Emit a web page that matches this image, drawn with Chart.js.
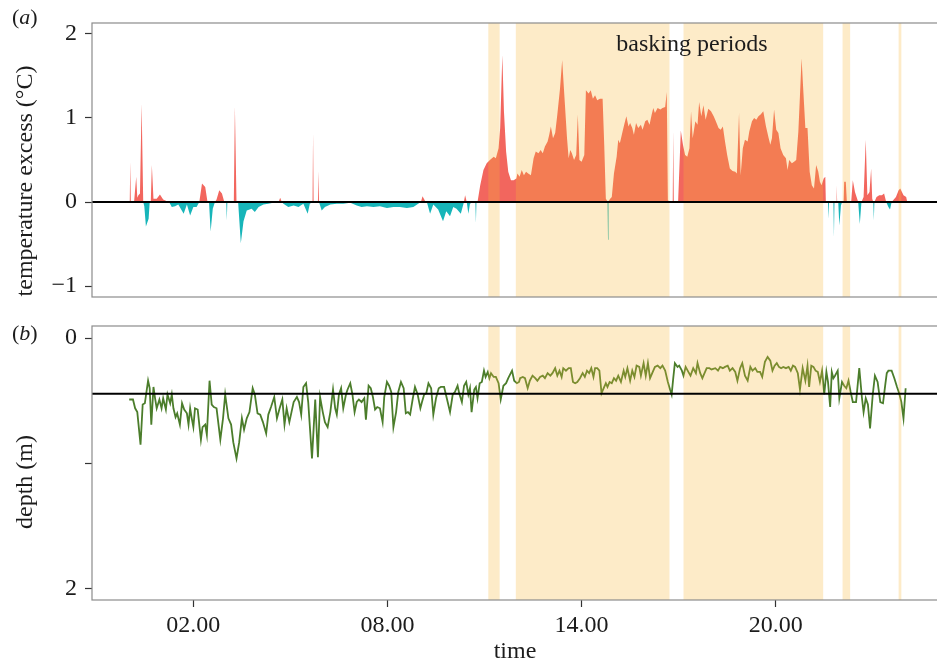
<!DOCTYPE html>
<html>
<head>
<meta charset="utf-8">
<script src="https://cdn.jsdelivr.net/npm/chart.js@4.4.1/dist/chart.umd.min.js"></script>
<style>
  html, body { margin: 0; padding: 0; background: #fff; overflow: hidden; width: 937px; height: 666px; }
  canvas { position: absolute; left: 0; top: 0; }
</style>
</head>
<body>
<canvas id="tempChart" width="940" height="666"></canvas>
<canvas id="depthChart" width="940" height="666"></canvas>
<script>
// time is in minutes after midnight
const tickMinutes = [120, 480, 840, 1200];
const tickLabels = ['02.00', '08.00', '14.00', '20.00'];
const tempTicks = [-1, 0, 1, 2];
const tempTickLabels = ['\u22121', '0', '1', '2'];
const depthTicks = [0, 1, 2];
const depthTickLabels = ['0', '', '2'];

// basking periods (start / end, minutes)
const baskStart = [667, 718, 1029, 1324, 1428];
const baskEnd = [688, 1003, 1288, 1338, 1433];
const depthRef = 0.445;

// temperature excess (°C)
const tempTime = [
  0, 2, 3, 4, 10, 14, 16, 18, 21, 24,
  27, 29, 32, 37, 39, 41, 43, 46, 52, 58,
  64, 71, 75, 80, 86, 92, 102, 108, 114, 120,
  126, 131, 136, 142, 146, 149, 152, 156, 160, 163,
  168, 173, 177, 181, 182, 183, 195, 197, 200, 203,
  208, 213, 219, 228, 234, 241, 250, 259, 268, 275,
  278, 281, 284, 287, 296, 306, 315, 324, 332, 336,
  341, 342, 343, 351, 352, 353, 358, 364, 374, 386,
  398, 411, 423, 432, 442, 454, 466, 479, 491, 503,
  516, 528, 537, 542, 545, 550, 553, 559, 565, 574,
  583, 589, 596, 602, 608, 616, 621, 624, 627, 630,
  633, 638, 643, 644, 645, 647, 652, 658, 664, 670,
  677, 681, 686, 689, 693, 696, 700, 704, 709, 714,
  719, 721, 725, 729, 733, 737, 741, 746, 751, 755,
  760, 764, 768, 772, 777, 780, 783, 787, 791, 795,
  800, 804, 808, 813, 816, 819, 822, 826, 830, 833,
  836, 840, 845, 848, 853, 857, 861, 865, 869, 874,
  879, 882, 885, 888, 889, 890, 893, 896, 900, 905,
  908, 911, 916, 919, 923, 927, 930, 934, 937, 941,
  945, 950, 953, 958, 962, 966, 970, 973, 976, 981,
  986, 990, 995, 998, 1000, 1004, 1009, 1010, 1011, 1019,
  1024, 1028, 1032, 1036, 1040, 1043, 1046, 1051, 1055, 1058,
  1062, 1066, 1070, 1075, 1080, 1085, 1089, 1094, 1098, 1102,
  1106, 1110, 1115, 1120, 1125, 1128, 1132, 1135, 1139, 1143,
  1148, 1151, 1156, 1160, 1164, 1168, 1172, 1177, 1182, 1187,
  1190, 1193, 1197, 1201, 1205, 1209, 1214, 1219, 1222, 1225,
  1230, 1234, 1238, 1242, 1245, 1248, 1251, 1255, 1259, 1263,
  1267, 1271, 1275, 1279, 1282, 1285, 1289, 1292, 1293, 1297,
  1298, 1299, 1307, 1308, 1309, 1312, 1313, 1314, 1316, 1318,
  1321, 1323, 1326, 1327, 1330, 1332, 1340, 1343, 1347, 1350,
  1353, 1356, 1359, 1363, 1367, 1370, 1374, 1377, 1379, 1381,
  1382, 1383, 1387, 1392, 1397, 1401, 1405, 1409, 1412, 1415,
  1423, 1428, 1431, 1437, 1442, 1444
];
const tempValue = [
  0, 0, 0.48, 0, 0, 0.30, 0.05, 0.08, 0.10, 1.17,
  0, -0.05, -0.29, -0.20, 0, 0, 0.44, 0.04, 0.04, 0.09,
  0.03, 0.01, 0, -0.06, -0.05, -0.03, -0.14, -0.03, -0.16, -0.06,
  -0.06, 0, 0.22, 0.18, 0.01, 0, -0.35, -0.08, 0, 0.03,
  0.14, 0.10, 0.01, 0, -0.22, 0, 0, 1.14, 0, 0,
  -0.49, -0.23, -0.10, -0.08, -0.12, -0.06, -0.03, -0.02, -0.01, -0.01,
  0, 0.05, 0, -0.02, -0.06, -0.04, -0.06, -0.02, -0.14, -0.02,
  0, 0.82, 0, 0, 0.37, 0, -0.10, -0.06, -0.03, -0.02,
  -0.02, -0.01, -0.04, -0.06, -0.05, -0.06, -0.05, -0.07, -0.06, -0.06,
  -0.07, -0.06, -0.02, 0, 0.07, 0.01, 0, -0.14, -0.03, -0.09,
  -0.23, -0.11, -0.17, -0.06, -0.08, -0.14, -0.02, 0.08, 0, -0.14,
  -0.02, 0, 0, -0.25, 0, 0, 0.20, 0.38, 0.46, 0.50,
  0.54, 0.52, 0.64, 0.88, 1.75, 1.08, 0.60, 0.36, 0.26, 0.26,
  0.28, 0.34, 0.30, 0.38, 0.32, 0.36, 0.34, 0.32, 0.52, 0.60,
  0.58, 0.62, 0.58, 0.66, 0.72, 0.80, 0.90, 0.76, 0.82, 1.04,
  1.35, 1.69, 1.27, 0.76, 0.52, 0.62, 0.58, 0.50, 0.56, 1.04,
  0.50, 0.48, 0.56, 1.33, 1.29, 1.33, 1.23, 1.27, 1.21, 1.23,
  1.23, 0.68, 0.04, 0.01, -0.45, 0.01, 0.04, 0.06, 0.34, 0.54,
  0.74, 0.70, 0.84, 0.92, 1.02, 0.90, 0.94, 0.88, 0.80, 0.94,
  0.88, 0.92, 0.86, 0.96, 0.98, 0.92, 1.04, 1.12, 1.06, 1.12,
  1.10, 1.12, 1.13, 1.31, 0.02, 0, 0, 0.85, 0, 0,
  0.85, 0.68, 0.56, 0.54, 0.64, 1.08, 0.76, 0.96, 0.92, 1.19,
  1.02, 1.15, 0.98, 1.11, 1.08, 1.02, 0.96, 0.88, 0.86, 0.90,
  0.72, 0.56, 0.40, 0.37, 0.36, 0.34, 1.06, 0.32, 0.64, 0.74,
  0.72, 0.84, 0.96, 1.00, 0.98, 1.02, 1.04, 1.08, 0.90, 0.76,
  0.68, 0.76, 1.10, 0.86, 0.82, 0.64, 0.56, 0.52, 0.38, 0.50,
  0.46, 0.48, 0.50, 0.84, 1.27, 1.71, 1.35, 0.88, 0.88, 0.36,
  0.20, 0.16, 0.44, 0.36, 0.24, 0.20, 0.28, 0.30, 0, 0,
  -0.20, 0, 0, -0.42, 0, 0, 0.20, 0, 0, -0.28,
  -0.04, 0, 0, 0.24, 0.24, 0, 0, 0.26, 0.12, 0.06,
  0, -0.26, 0, 0.06, 0.74, 0.08, 0.12, 0.40, 0.04, 0,
  -0.22, 0, 0.06, 0.08, 0.08, 0.10, 0, -0.06, -0.09, 0,
  0.06, 0.14, 0.16, 0.08, 0.06, 0
];

// depth (m)
const depthTime = [
  1, 8, 12, 16, 22, 26, 30, 36, 39, 42,
  46, 49, 52, 57, 61, 64, 69, 72, 77, 80,
  83, 87, 90, 95, 99, 103, 108, 111, 114, 117,
  120, 123, 128, 134, 137, 142, 145, 150, 154, 158,
  163, 170, 175, 179, 185, 190, 194, 200, 205, 210,
  214, 219, 224, 230, 234, 239, 244, 249, 255, 259,
  264, 270, 275, 280, 285, 289, 293, 298, 302, 306,
  312, 316, 320, 324, 329, 333, 340, 346, 351, 355,
  360, 364, 369, 374, 379, 383, 386, 390, 394, 398,
  403, 406, 411, 415, 419, 423, 427, 432, 437, 440,
  445, 449, 453, 457, 461, 466, 471, 474, 479, 483,
  487, 491, 496, 500, 505, 510, 514, 518, 522, 527,
  531, 536, 541, 544, 548, 552, 556, 561, 565, 570,
  575, 579, 585, 590, 596, 601, 605, 610, 613, 618,
  622, 626, 630, 633, 636, 641, 644, 647, 651, 655,
  659, 662, 666, 669, 672, 677, 681, 686, 690, 695,
  700, 704, 711, 715, 720, 724,
  726, 731, 735, 740, 744, 749, 754, 758, 763, 768,
  772, 777, 782, 786, 791, 795, 799, 803, 806, 811,
  816, 820, 824, 828, 832, 837, 842, 846, 850, 854,
  858, 862, 865, 869, 873, 877, 881, 885, 888, 892,
  896, 900, 904, 908, 913, 918, 921, 925, 930, 934,
  938, 942, 947, 950, 955, 959, 963, 967, 972, 976,
  981, 986, 990, 995, 1000, 1004, 1007, 1010, 1013, 1018,
  1021, 1026, 1029, 1033, 1038, 1042, 1047, 1052, 1055, 1060,
  1064, 1068, 1072, 1077, 1081, 1088, 1093,
  1097, 1102, 1106, 1111, 1115, 1120, 1125, 1129, 1134, 1138,
  1143, 1148, 1153, 1157, 1162, 1166, 1171, 1175, 1180, 1185,
  1190, 1194, 1198, 1202, 1206, 1210, 1214, 1219, 1224, 1228,
  1232, 1236, 1241, 1245, 1250, 1255, 1259, 1262, 1266, 1270,
  1274, 1278, 1282, 1286, 1290, 1294, 1297, 1301, 1304, 1307,
  1310, 1315, 1318, 1323, 1327, 1331, 1335, 1339, 1343, 1349,
  1355, 1360, 1363, 1367, 1371, 1375, 1380, 1384, 1389, 1394,
  1399, 1403, 1406, 1409, 1415, 1420, 1425, 1429, 1433, 1437,
  1441
];
const depthValue = [
  0.49, 0.49, 0.56, 0.59, 0.85, 0.53, 0.52, 0.34, 0.40, 0.69,
  0.39, 0.48, 0.56, 0.49, 0.56, 0.48, 0.57, 0.45, 0.52, 0.45,
  0.56, 0.63, 0.60, 0.69, 0.52, 0.57, 0.60, 0.69, 0.56, 0.64,
  0.71, 0.56, 0.57, 0.81, 0.71, 0.69, 0.77, 0.34, 0.53, 0.55,
  0.56, 0.81, 0.64, 0.45, 0.64, 0.69, 0.83, 0.96, 0.83, 0.64,
  0.73, 0.64, 0.59, 0.40, 0.45, 0.60, 0.61, 0.67, 0.76, 0.61,
  0.55, 0.47, 0.64, 0.56, 0.49, 0.69, 0.56, 0.67, 0.59, 0.51,
  0.47, 0.51, 0.61, 0.39, 0.36, 0.51, 0.96, 0.49, 0.95, 0.47,
  0.59, 0.67, 0.71, 0.59, 0.41, 0.56, 0.61, 0.45, 0.40, 0.56,
  0.45, 0.41, 0.36, 0.45, 0.59, 0.51, 0.49, 0.51, 0.48, 0.65,
  0.38, 0.40, 0.47, 0.57, 0.55, 0.56, 0.67, 0.47, 0.35, 0.38,
  0.43, 0.71, 0.59, 0.43, 0.35, 0.40, 0.60, 0.59, 0.61, 0.48,
  0.39, 0.45, 0.56, 0.51, 0.45, 0.44, 0.36, 0.40, 0.61, 0.48,
  0.40, 0.39, 0.39, 0.48, 0.59, 0.45, 0.43, 0.38, 0.44, 0.51,
  0.38, 0.35, 0.45, 0.40, 0.59, 0.41, 0.39, 0.48, 0.36, 0.35,
  0.26, 0.31, 0.27, 0.32, 0.28, 0.31, 0.31, 0.36, 0.49, 0.38,
  0.36, 0.32, 0.26, 0.34, 0.36, 0.35,
  0.32, 0.31, 0.32, 0.40, 0.34, 0.30, 0.32, 0.34, 0.31, 0.30,
  0.32, 0.28, 0.30, 0.28, 0.24, 0.30, 0.26, 0.31, 0.24, 0.26,
  0.24, 0.24, 0.35, 0.36, 0.35, 0.32, 0.28, 0.31, 0.26, 0.28,
  0.24, 0.31, 0.24, 0.24, 0.26, 0.44, 0.40, 0.36, 0.39, 0.35,
  0.36, 0.32, 0.34, 0.30, 0.35, 0.26, 0.31, 0.24, 0.34, 0.26,
  0.31, 0.22, 0.23, 0.30, 0.20, 0.30, 0.20, 0.32, 0.27, 0.23,
  0.22, 0.24, 0.22, 0.26, 0.35, 0.41, 0.45, 0.32, 0.20, 0.23,
  0.22, 0.26, 0.30, 0.23, 0.27, 0.30, 0.24, 0.28, 0.20, 0.28,
  0.32, 0.28, 0.24, 0.24, 0.25, 0.24, 0.26,
  0.23, 0.24, 0.23, 0.22, 0.26, 0.24, 0.27, 0.34, 0.24, 0.20,
  0.30, 0.34, 0.23, 0.26, 0.24, 0.27, 0.27, 0.31, 0.19, 0.15,
  0.18, 0.26, 0.22, 0.20, 0.23, 0.24, 0.23, 0.24, 0.23, 0.26,
  0.22, 0.23, 0.28, 0.41, 0.24, 0.34, 0.22, 0.39, 0.22, 0.23,
  0.26, 0.27, 0.35, 0.26, 0.45, 0.27, 0.35, 0.55, 0.27, 0.32,
  0.30, 0.26, 0.48, 0.35, 0.38, 0.40, 0.34, 0.43, 0.51, 0.51,
  0.24, 0.48, 0.59, 0.48, 0.53, 0.72, 0.45, 0.30, 0.35, 0.51,
  0.52, 0.38, 0.28, 0.26, 0.26, 0.32, 0.39, 0.44, 0.51, 0.64,
  0.40
];

const FONT = '"Liberation Serif", "Times New Roman", serif';
const INK = '#1c1c1c';
const RED = '#F2665E';
const TEAL = '#17B5B9';
const GREEN = '#4B7D2B';
const BAND = 'rgba(248, 183, 59, 0.28)';

Chart.defaults.font.family = FONT;

function xAxis(show) {
    return {
        type: 'linear',
        min: -68,
        max: 1501,
        display: show,
        afterBuildTicks: s => { s.ticks = tickMinutes.map(v => ({ value: v })); },
        afterFit: s => { if (show) s.height = 66; },
        ticks: {
            autoSkip: false, maxRotation: 0, padding: 4, color: INK,
            font: { family: FONT, size: 24 },
            callback: (v, i) => tickLabels[i]
        },
        grid: { drawOnChartArea: false, tickLength: 7, tickColor: '#333', tickWidth: 1.2 },
        border: { display: false },
        title: {
            display: show, text: 'time', color: INK,
            font: { family: FONT, size: 24 },
            padding: 0
        }
    };
}

function yAxis(min, max, ticks, labels, reverse) {
    return {
        type: 'linear',
        min: min,
        max: max,
        reverse: reverse,
        afterBuildTicks: s => { s.ticks = ticks.map(v => ({ value: v })); },
        afterFit: s => { s.width = 92; },
        ticks: {
            autoSkip: false, padding: 8, color: INK,
            font: { family: FONT, size: 24 },
            callback: (v, i) => labels[i]
        },
        grid: { drawOnChartArea: false, tickLength: 7, tickColor: '#333', tickWidth: 1.2 },
        border: { display: false }
    };
}

// basking bands, reference line, panel frame and labels
const panelDecor = {
    id: 'panelDecor',
    afterDatasetsDraw(chart, args, o) {
        const { ctx, chartArea: a, scales } = chart;
        ctx.save();
        ctx.fillStyle = BAND;
        baskStart.forEach((s, i) => {
            const x0 = scales.x.getPixelForValue(s);
            const x1 = scales.x.getPixelForValue(baskEnd[i]);
            ctx.fillRect(x0, a.top, x1 - x0, a.bottom - a.top);
        });
        const yr = scales.y.getPixelForValue(o.refValue);
        ctx.strokeStyle = '#000';
        ctx.lineWidth = 2;
        ctx.beginPath();
        ctx.moveTo(a.left, yr);
        ctx.lineTo(a.right, yr);
        ctx.stroke();
        ctx.strokeStyle = '#8c8c8c';
        ctx.lineWidth = 1.2;
        ctx.strokeRect(a.left, a.top, a.right - a.left, a.bottom - a.top);
        ctx.restore();
    },
    afterDraw(chart, args, o) {
        const ctx = chart.ctx;
        ctx.save();
        ctx.fillStyle = INK;
        ctx.textBaseline = 'alphabetic';
        ctx.textAlign = 'left';
        let px = 12;
        ctx.font = '22px ' + FONT;
        ctx.fillText('(', px, o.letterY);
        px += ctx.measureText('(').width;
        ctx.font = 'italic 22px ' + FONT;
        ctx.fillText(o.letter, px, o.letterY);
        px += ctx.measureText(o.letter).width;
        ctx.font = '22px ' + FONT;
        ctx.fillText(')', px, o.letterY);

        if (o.note) {
            ctx.font = '24px ' + FONT;
            ctx.textAlign = 'center';
            ctx.fillText(o.note, o.noteX, o.noteY);
        }

        ctx.font = '24px ' + FONT;
        ctx.textAlign = 'center';
        ctx.translate(32, o.titleY);
        ctx.rotate(-Math.PI / 2);
        ctx.fillText(o.title, 0, 0);
        ctx.restore();
    }
};

const common = {
    responsive: false,
    animation: false,
    events: [],
    devicePixelRatio: 1
};

new Chart(document.getElementById('tempChart'), {
    type: 'line',
    data: {
        datasets: [{
            data: tempTime.map((t, i) => ({ x: t, y: tempValue[i] })),
            borderWidth: 0,
            borderColor: 'rgba(0,0,0,0)',
            pointRadius: 0,
            tension: 0,
            fill: { target: 'origin', above: RED, below: TEAL }
        }]
    },
    options: Object.assign({}, common, {
        layout: { padding: { top: 23, bottom: 369, left: 0, right: 2 } },
        scales: {
            x: xAxis(false),
            y: yAxis(-1.13, 2.13, tempTicks, tempTickLabels, false)
        },
        plugins: {
            legend: { display: false },
            tooltip: { enabled: false },
            panelDecor: {
                refValue: 0, letter: 'a', letterY: 24,
                title: 'temperature excess (\u00B0C)', titleY: 181,
                note: 'basking periods', noteX: 692, noteY: 51
            }
        }
    }),
    plugins: [panelDecor]
});

new Chart(document.getElementById('depthChart'), {
    type: 'line',
    data: {
        datasets: [{
            data: depthTime.map((t, i) => ({ x: t, y: depthValue[i] })),
            borderColor: GREEN,
            borderWidth: 1.8,
            pointRadius: 0,
            tension: 0,
            fill: false
        }]
    },
    options: Object.assign({}, common, {
        layout: { padding: { top: 326, bottom: 0, left: 0, right: 2 } },
        scales: {
            x: xAxis(true),
            y: yAxis(-0.096, 2.088, depthTicks, depthTickLabels, true)
        },
        plugins: {
            legend: { display: false },
            tooltip: { enabled: false },
            panelDecor: {
                refValue: depthRef, letter: 'b', letterY: 340,
                title: 'depth (m)', titleY: 482,
                note: null
            }
        }
    }),
    plugins: [panelDecor]
});
</script>
</body>
</html>
